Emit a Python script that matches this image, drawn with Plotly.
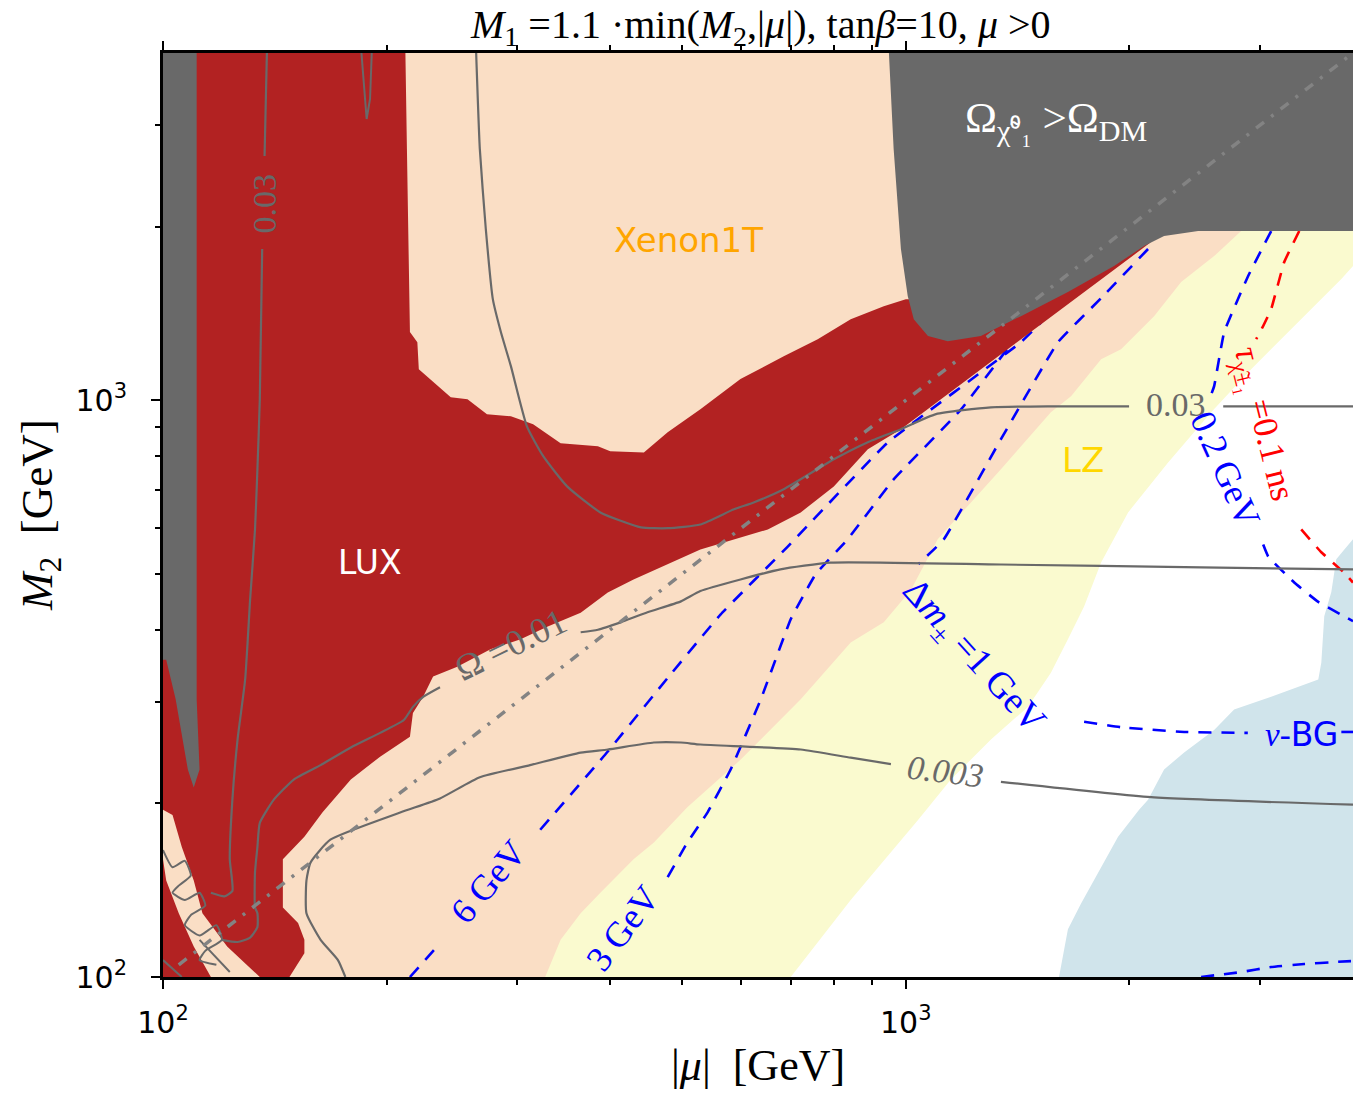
import math
import plotly.graph_objects as go

# ---------------- data (GeV) ----------------
# LZ projected reach (pale yellow)
LZ_MU = [100, 700, 843, 1038, 1150, 1302, 1460, 1568, 1653, 1738, 1832, 1992, 2255, 2577, 2917, 3303, 3858, 4000, 4000, 100]
LZ_M2 = [100, 100, 136, 187, 220, 258, 294, 337, 385, 439, 523, 639, 780, 953, 1132, 1329, 1622, 1709, 4000, 4000]

# Xenon1T projected reach (peach)
XE_MU = [100, 327, 343, 365, 388, 430, 458, 508, 599, 722, 843, 934, 1016, 1104, 1343, 1568, 1669, 1832, 1949, 2159, 2348, 2601, 2828, 2828, 100]
XE_M2 = [100, 100, 116, 129, 140, 160, 171, 197, 238, 303, 380, 412, 469, 574, 759, 953, 1016, 1178, 1226, 1399, 1603, 1778, 1965, 4000, 4000]

# LUX exclusion (dark red)
LUX_MU = [100, 212, 213, 214, 215, 220, 221, 244, 257, 273, 294, 315, 343, 385, 400, 444, 478, 529, 599, 685,
          761, 843, 934, 1000, 1186, 2139, 1373, 985, 889, 800, 722, 652, 529, 430, 397, 365, 329, 303, 276, 249,
          231, 224, 217, 215, 196, 179, 164, 155, 145, 145, 145, 152, 155, 155, 148, 100]
LUX_M2 = [4000, 4000, 2728, 1829, 1313, 1261, 1132, 1012, 1004, 946, 938, 909, 842, 832, 816, 812, 880, 965, 1088, 1192,
          1276, 1382, 1456, 1497, 1497, 1880, 1226, 891, 822, 709, 639, 597, 551, 489, 464, 428, 405, 385, 370, 345,
          332, 306, 287, 261, 241, 220, 193, 175, 160, 147, 132, 124, 116, 110, 100, 100]

# small allowed strip inside LUX near the corner
STRIP_MU = [100, 103, 106, 110, 113, 122, 135, 116, 110, 105, 101, 100]
STRIP_M2 = [195, 191, 168, 147, 129, 113, 100, 100, 113, 129, 147, 160]

# overabundant relic density (dark grey)
OVL_MU = [100, 111, 111, 112, 110, 108, 104, 101, 100]
OVL_M2 = [4000, 4000, 303, 229, 213, 229, 303, 355, 355]
OVR_MU = [949, 963, 985, 1006, 1025, 1071, 1139, 1262, 1429, 1653, 1907, 2093, 2227, 2475, 4000, 4000]
OVR_M2 = [4000, 2728, 1829, 1516, 1382, 1292, 1266, 1292, 1399, 1540, 1709, 1851, 1926, 1965, 1965, 4000]

# neutrino background floor (light blue)
NU_MU = [1608, 1653, 1721, 1787, 1849, 1931, 2061, 2119, 2227, 2370, 2601, 2767, 3104, 3592, 3626, 3659, 3740, 3798, 3894, 4000, 4000]
NU_M2 = [100, 121, 134, 146, 158, 175, 195, 203, 229, 245, 268, 291, 306, 328, 351, 422, 465, 530, 551, 574, 100]

# relic density contours Omega h^2 = 0.03
OM03_TOP_MU = [264, 267, 272, 278, 285, 294, 309, 325, 350, 388, 440, 478, 529, 587, 624, 685, 800, 889, 985, 1098, 1302, 1568, 1998]
OM03_TOP_M2 = [4000, 2728, 1981, 1497, 1313, 1146, 901, 800, 709, 639, 602, 600, 609, 647, 665, 701, 790, 846, 891, 946, 972, 976, 976]
OM03_RIGHT_MU = [2675, 4000]
OM03_RIGHT_M2 = [976, 976]
OM03_LEFT_A_MU = [138, 137]
OM03_LEFT_A_M2 = [4000, 2652]
OM03_LEFT_B_MU = [136, 135, 134, 133, 131, 129, 126, 124, 123, 124, 121, 116]
OM03_LEFT_B_M2 = [1829, 1004, 759, 597, 451, 328, 258, 203, 160, 141, 138, 140]
OM03_SPIKE_MU = [185, 187, 188, 190, 191]
OM03_SPIKE_M2 = [4000, 3332, 3074, 3332, 4000]

# Omega h^2 = 0.01
OM01_RIGHT_MU = [4000, 2498, 1343, 792, 678, 599, 529, 498, 449, 413, 385, 365]
OM01_RIGHT_M2 = [509, 513, 519, 523, 509, 489, 467, 448, 429, 412, 400, 396]
OM01_LEFT_MU = [236, 224, 217, 211, 196, 179, 163, 150, 141, 135, 134, 133, 133, 134, 134, 131, 126, 120]
OM01_LEFT_M2 = [318, 306, 294, 279, 265, 250, 233, 220, 203, 185, 168, 152, 132, 129, 122, 117, 115, 116]

# Omega h^2 = 0.003
OM003_RIGHT_MU = [1343, 2139, 4000]
OM003_RIGHT_M2 = [218, 205, 199]
OM003_LEFT_MU = [955, 843, 722, 529, 498, 458, 397, 365, 312, 267, 236, 209, 168, 158, 156, 156, 163, 172, 176]
OM003_LEFT_M2 = [234, 240, 248, 253, 255, 255, 248, 245, 233, 222, 204, 193, 173, 158, 147, 129, 116, 107, 100]

# contour fragments crowding the low-mass corner
KNOT_MU = [100, 103, 107, 109, 105, 103, 107, 112, 114, 109, 107, 112, 118, 120, 114, 112, 118]
KNOT_M2 = [166, 155, 159, 150, 144, 140, 136, 140, 133, 128, 123, 118, 123, 116, 111, 107, 105]
CORNER_A_MU = [100, 106]
CORNER_A_M2 = [107, 100]
CORNER_B_MU = [112, 123]
CORNER_B_M2 = [116, 102]

# M2 = |mu| diagonal
DIAG = [105, 4000]

# chargino-neutralino mass splitting contours
DM6_A_MU = [215, 234]
DM6_A_M2 = [100, 113]
DM6_B_MU = [322, 397, 478, 563, 693, 946, 1429, 1545]
DM6_B_M2 = [180, 246, 330, 425, 557, 845, 1261, 1393]
DM3_MU = [478, 508, 541, 581, 638, 700, 756, 835, 963, 1186, 1385]
DM3_M2 = [149, 171, 193, 229, 303, 417, 499, 574, 729, 963, 1251]
DM1_TOP_MU = [2119, 1832, 1603, 1343, 1125, 1040]
DM1_TOP_M2 = [1829, 1503, 1261, 856, 574, 520]
DM1_LOW_MU = [1738, 1949, 2370, 2887]
DM1_LOW_M2 = [277, 271, 266, 265]
DM1_END_MU = [3858, 4000]
DM1_END_M2 = [266, 266]
DM02_TOP_MU = [3104, 2890, 2683, 2601, 2563]
DM02_TOP_M2 = [1965, 1642, 1313, 1058, 1004]
DM02_LOW_MU = [3028, 3075, 3334, 3592, 3894, 4000]
DM02_LOW_M2 = [562, 536, 483, 447, 422, 414]
DMB_MU = [2498, 2828, 3104, 3439, 3798, 4000]
DMB_M2 = [100, 102, 104.1, 105.3, 106.2, 106.6]

# chargino lifetime 0.1 ns
TAU_TOP_MU = [3386, 3232, 3104, 3028, 2963]
TAU_TOP_M2 = [1965, 1736, 1439, 1345, 1276]
TAU_LOW_MU = [3407, 3626, 3894, 4000]
TAU_LOW_M2 = [597, 545, 502, 483]

# ---------------- styling ----------------
C_LZ = "#FAFACF"
C_XE = "#FADEC5"
C_LUX = "#B22222"
C_OVER = "#696969"
C_NU = "#D0E4EB"
C_CONT = "#696969"
C_DIAG = "#838383"
BLUE = "#0000FF"
RED = "#FF0000"
SERIF = "Liberation Serif"
SANS = "DejaVu Sans"

fig = go.Figure()


def area(mu, m2, color):
    fig.add_trace(go.Scatter(x=mu, y=m2, mode="lines", fill="toself", fillcolor=color,
                             line=dict(width=0, color=color), hoverinfo="skip", showlegend=False))


def curve(mu, m2, color, width, dash="solid", smooth=0.5):
    fig.add_trace(go.Scatter(x=mu, y=m2, mode="lines",
                             line=dict(color=color, width=width, dash=dash,
                                       shape="spline" if smooth else "linear",
                                       smoothing=smooth if smooth else 1),
                             hoverinfo="skip", showlegend=False))


BDASH = "13px,10px"

area(LZ_MU, LZ_M2, C_LZ)
area(XE_MU, XE_M2, C_XE)
area(NU_MU, NU_M2, C_NU)

# mass-splitting and lifetime contours sit beneath the exclusion regions
for mu, m2 in [(DM6_A_MU, DM6_A_M2), (DM6_B_MU, DM6_B_M2), (DM3_MU, DM3_M2),
               (DM1_TOP_MU, DM1_TOP_M2), (DM1_LOW_MU, DM1_LOW_M2), (DM1_END_MU, DM1_END_M2),
               (DM02_TOP_MU, DM02_TOP_M2), (DM02_LOW_MU, DM02_LOW_M2), (DMB_MU, DMB_M2)]:
    curve(mu, m2, BLUE, 2.6, BDASH, smooth=0.3)
curve(TAU_TOP_MU, TAU_TOP_M2, RED, 2.6, BDASH, smooth=0.3)
curve(TAU_LOW_MU, TAU_LOW_M2, RED, 2.6, BDASH, smooth=0.3)

area(LUX_MU, LUX_M2, C_LUX)
area(STRIP_MU, STRIP_M2, C_XE)
area(OVL_MU, OVL_M2, C_OVER)
area(OVR_MU, OVR_M2, C_OVER)

for mu, m2 in [(OM03_TOP_MU, OM03_TOP_M2), (OM03_RIGHT_MU, OM03_RIGHT_M2),
               (OM03_LEFT_A_MU, OM03_LEFT_A_M2), (OM03_LEFT_B_MU, OM03_LEFT_B_M2),
               (OM01_RIGHT_MU, OM01_RIGHT_M2), (OM01_LEFT_MU, OM01_LEFT_M2),
               (OM003_RIGHT_MU, OM003_RIGHT_M2), (OM003_LEFT_MU, OM003_LEFT_M2)]:
    curve(mu, m2, C_CONT, 2.2)
curve(OM03_SPIKE_MU, OM03_SPIKE_M2, C_CONT, 2.0, smooth=0)
curve(KNOT_MU, KNOT_M2, C_CONT, 2.0)
curve(CORNER_A_MU, CORNER_A_M2, C_CONT, 2.0)
curve(CORNER_B_MU, CORNER_B_M2, C_CONT, 2.0)

curve(DIAG, DIAG, C_DIAG, 3.5, "10px,9px,3px,9px", smooth=0)


# ---------------- labels ----------------
def label(mu, m2, text, color, size, family=SERIF, angle=0):
    fig.add_annotation(x=math.log10(mu), y=math.log10(m2), xref="x", yref="y", text=text,
                       showarrow=False, textangle=angle,
                       font=dict(family=family, size=size, color=color))


label(190, 523, "LUX", "white", 33, SANS)
label(510, 1896, "Xenon1T", "#FFA500", 34, SANS)
label(1732, 787, "LZ", "#FFD700", 34, SANS)
label(1593, 3051, "Ω<sub>χ̃⁰₁</sub> >Ω<sub>DM</sub>", "white", 43)
label(137, 2190, "0.03", C_CONT, 34, angle=-90)
label(2311, 984, "0.03", C_CONT, 34)
label(293.5, 377, "Ω =0.01", C_CONT, 36, angle=-26)
label(1132, 227, "<i>0.003</i>", C_CONT, 34, angle=7)
label(274, 146, "6 GeV", BLUE, 36, angle=-50)
label(416, 121.6, "3 GeV", BLUE, 36, angle=-53)
label(1231, 358, "Δ<i>m</i><sub>±</sub> =1 GeV", BLUE, 37, angle=48)
label(2691, 759, "0.2 GeV", BLUE, 36, angle=66)
label(3028, 908, "<i>τ</i><sub>χ̃±₁</sub> =0.1 ns", RED, 35, angle=76)
label(3407, 263, "<i>ν</i>-<span style=\"font-family:'DejaVu Sans'\">BG</span>", BLUE, 33)

fig.add_annotation(x=0.5017, y=1.0285, xref="paper", yref="paper", showarrow=False,
                   text="<i>M</i><sub>1</sub> =1.1 ·min(<i>M</i><sub>2</sub>,|<i>μ</i>|), tan<i>β</i>=10, <i>μ</i> >0",
                   font=dict(family=SERIF, size=40, color="black"), yanchor="middle")
fig.add_annotation(x=0.5, y=-0.0963, xref="paper", yref="paper", showarrow=False,
                   text="|<i>μ</i>|  [GeV]", font=dict(family=SERIF, size=44, color="black"),
                   yanchor="middle")
fig.add_annotation(x=-0.1034, y=0.5, xref="paper", yref="paper", showarrow=False, textangle=-90,
                   text="<i>M</i><sub>2</sub>  [GeV]", font=dict(family=SERIF, size=45, color="black"),
                   xanchor="center", yanchor="middle")

MAJOR = [100, 1000]
MAJOR_TEXT = ["10<sup>2</sup>", "10<sup>3</sup>"]
MINOR = [200, 300, 400, 500, 600, 700, 800, 900, 2000, 3000]

axis_common = dict(
    type="log", range=[2, math.log10(4000)], showgrid=False, zeroline=False,
    showline=True, linecolor="black", linewidth=3,
    ticks="outside", ticklen=9, tickwidth=1.5, tickcolor="black",
    tickmode="array", tickvals=MAJOR, ticktext=MAJOR_TEXT,
    tickfont=dict(family=SANS, size=30, color="black"),
    minor=dict(ticks="outside", ticklen=5, tickwidth=1.5, tickcolor="black",
               tickmode="array", tickvals=MINOR, showgrid=False),
)

fig.update_layout(
    width=1353, height=1093,
    margin=dict(l=163, r=0, t=53, b=116),
    paper_bgcolor="white", plot_bgcolor="white",
    xaxis=dict(**axis_common, mirror="ticks", ticklabelstandoff=8),
    yaxis=dict(**axis_common, mirror=False, ticklabelstandoff=18),
    showlegend=False,
)

fig.write_html("out.html")
